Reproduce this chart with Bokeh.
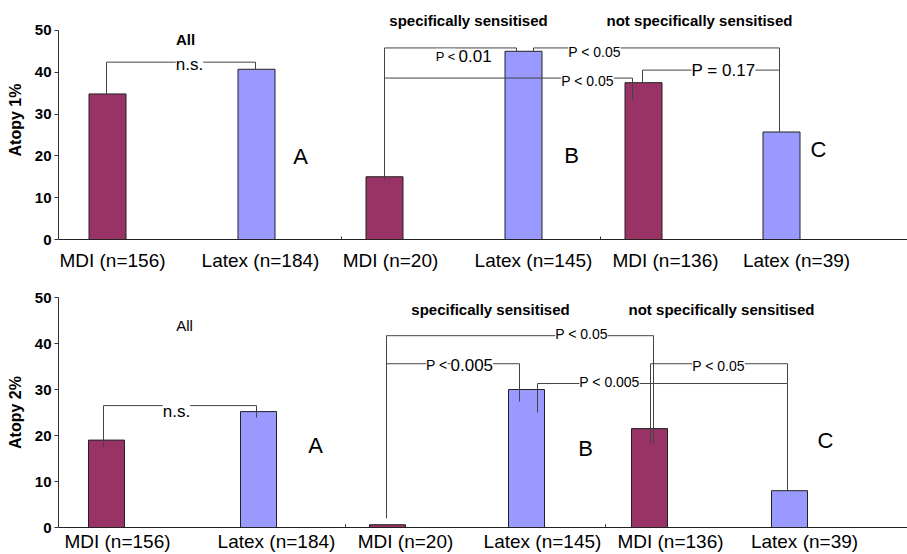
from bokeh.plotting import figure
from bokeh.models import Label, FixedTicker, Range1d
from bokeh.layouts import column
from bokeh.embed import file_html
from bokeh.resources import INLINE

# ---------------- data ----------------
categories = ["MDI (n=156)", "Latex (n=184)", "MDI (n=20)",
              "Latex (n=145)", "MDI (n=136)", "Latex (n=39)"]
groups = ["MDI", "Latex", "MDI", "Latex", "MDI", "Latex"]
atopy1 = [34.8, 40.7, 15.0, 45.0, 37.5, 25.7]
atopy2 = [19.0, 25.2, 0.6, 30.0, 21.5, 8.0]
y_ticks = [0, 10, 20, 30, 40, 50]
panel_letters = ["A", "B", "C"]
section_titles = ["All", "specifically sensitised", "not specifically sensitised"]

# significance brackets: (polyline x, polyline y, [(text, x, y, size, align)])
top_brackets = [
    ([48, 48, 197, 197], [34.8, 42.4, 42.4, 40.7], [("n.s.", 131, 41.9, 17, "center")]),
    ([326, 326, 458, 458], [14.3, 45.8, 45.8, 45.0],
     [("P <", 397, 43.8, 13, "right"), ("0.01", 400, 43.8, 17, "left")]),
    ([475, 475, 721, 721], [45.0, 45.8, 45.8, 25.7], [("P < 0.05", 536, 44.8, 14, "center")]),
    ([326, 574, 574], [38.6, 38.6, 33.3], [("P < 0.05", 529, 37.8, 14, "center")]),
    ([584, 584, 721], [37.5, 40.5, 40.5], [("P = 0.17", 665, 40.4, 17, "center")]),
]
bottom_brackets = [
    ([45, 45, 198, 198], [17.4, 26.5, 26.5, 23.9], [("n.s.", 118, 25.3, 17, "center")]),
    ([328, 328, 595, 595], [2.0, 41.7, 41.7, 18.3], [("P < 0.05", 523, 42.0, 14, "center")]),
    ([328, 461, 461], [35.6, 35.6, 27.4],
     [("P <", 389, 35.4, 14, "right"), ("0.005", 392, 35.4, 17, "left")]),
    ([479, 479, 729, 729], [25.0, 31.3, 31.3, 8.0], [("P < 0.005", 551, 31.6, 14, "center")]),
    ([592, 592, 729, 729], [18.3, 35.6, 35.6, 31.3], [("P < 0.05", 660, 35.2, 14, "center")]),
]

# ---------------- layout (positions) ----------------
FONT = "Liberation Sans"
COLORS = {"MDI": "#993366", "Latex": "#9999FF"}

top_layout = dict(
    label="Atopy 1%", height=273, y_end=240 / 4.2, border_top=0, border_bottom=33, standoff=10,
    bar_x=[49, 198, 326, 465, 585, 723], bar_w=37,
    label_x=[54, 202, 332, 475, 607, 738],
    titles=[(127, 47.9, "bold"), (410, 52.4, "bold"), (641, 52.4, "bold")],
    letters=[(242, 19.8), (513, 20.2), (760, 21.4)],
    dividers=[283, 542],
)
bottom_layout = dict(
    label="Atopy 2%", height=281, y_end=50, border_top=24, border_bottom=27, standoff=3,
    bar_x=[48, 200, 329, 468, 591, 731], bar_w=36,
    label_x=[59, 218, 347, 484, 612, 746],
    titles=[(126, 43.9, "normal"), (432, 47.4, "bold"), (663, 47.4, "bold")],
    letters=[(257, 17.8), (527, 17.2), (767, 18.9)],
    dividers=[287, 547],
)


def make_panel(values, brackets, lay):
    p = figure(width=907, height=lay["height"], x_range=Range1d(0, 849),
               y_range=Range1d(0, lay["y_end"]), output_backend="svg", toolbar_location=None,
               min_border_left=58, min_border_right=0,
               min_border_top=lay["border_top"], min_border_bottom=lay["border_bottom"])
    p.grid.visible = False
    p.outline_line_color = None
    p.background_fill_color = "white"

    # bars
    p.vbar(x=lay["bar_x"], top=values, bottom=0, width=lay["bar_w"],
           fill_color=[COLORS[g] for g in groups], line_color="#222222", line_width=1)

    # small divider ticks on the category axis
    p.segment(x0=lay["dividers"], y0=[0, 0], x1=lay["dividers"], y1=[0.7, 0.7],
              line_color="#333333", line_width=1)

    # brackets
    p.multi_line(xs=[b[0] for b in brackets], ys=[b[1] for b in brackets],
                 line_color="#444444", line_width=1)
    for _, _, texts in brackets:
        for (t, x, y, size, align) in texts:
            p.add_layout(Label(x=x, y=y, text=t, text_font=FONT,
                               text_font_size=f"{size}px", text_align=align,
                               text_baseline="middle", text_color="black",
                               background_fill_color="white"))

    # section titles
    for title, (x, y, style) in zip(section_titles, lay["titles"]):
        p.add_layout(Label(x=x, y=y, text=title, text_font=FONT, text_font_size="15px",
                           text_font_style=style, text_align="center",
                           text_baseline="middle", text_color="black"))
    # panel letters
    for letter, (x, y) in zip(panel_letters, lay["letters"]):
        p.add_layout(Label(x=x, y=y, text=letter, text_font=FONT, text_font_size="22px",
                           text_align="center", text_baseline="middle", text_color="black"))

    # x axis
    xa = p.xaxis[0]
    xa.ticker = FixedTicker(ticks=lay["label_x"])
    xa.major_label_overrides = {x: c for x, c in zip(lay["label_x"], categories)}
    xa.major_tick_line_color = None
    xa.major_tick_out = 0
    xa.major_tick_in = 0
    xa.minor_tick_line_color = None
    xa.major_label_text_font = FONT
    xa.major_label_text_font_size = "19px"
    xa.major_label_text_color = "black"
    xa.major_label_standoff = lay["standoff"]
    xa.axis_line_color = "#222222"

    # y axis
    ya = p.yaxis[0]
    ya.bounds = (0, 50)
    ya.ticker = FixedTicker(ticks=y_ticks)
    ya.axis_label = lay["label"]
    ya.axis_label_text_font = FONT
    ya.axis_label_text_font_size = "16px"
    ya.axis_label_text_font_style = "bold"
    ya.axis_label_text_color = "black"
    ya.axis_label_standoff = 8
    ya.major_label_text_font = FONT
    ya.major_label_text_font_size = "15px"
    ya.major_label_text_font_style = "bold"
    ya.major_label_text_color = "black"
    ya.major_label_standoff = 3
    ya.major_tick_out = 4
    ya.major_tick_in = 0
    ya.minor_tick_line_color = None
    ya.axis_line_color = "#333333"
    ya.major_tick_line_color = "#333333"
    return p


top = make_panel(atopy1, top_brackets, top_layout)
bottom = make_panel(atopy2, bottom_brackets, bottom_layout)
layout = column(top, bottom)

open("out.html", "w").write(file_html(layout, INLINE))
